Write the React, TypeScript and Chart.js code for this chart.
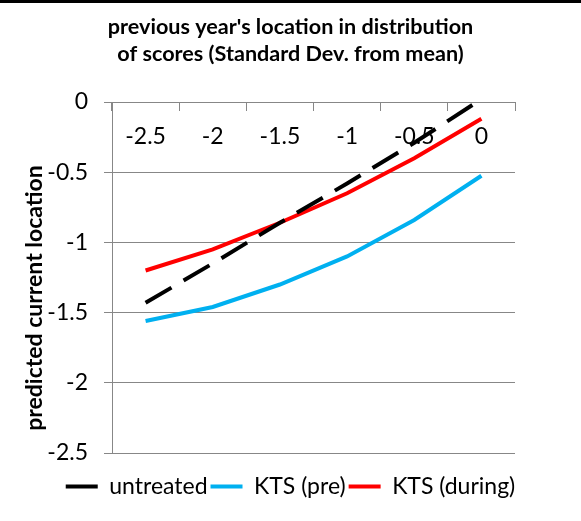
import React, { useEffect, useRef } from "react";
import { Chart, registerables } from "chart.js";

Chart.register(...registerables);

const categories = ["-2.5", "-2", "-1.5", "-1", "-0.5", "0"];
const untreated = [-1.43, -1.15, -0.86, -0.58, -0.29, 0.02];
const ktsPre = [-1.56, -1.46, -1.3, -1.1, -0.84, -0.525];
const ktsDuring = [-1.2, -1.05, -0.86, -0.65, -0.4, -0.12];
const yTickValues = [0, -0.5, -1, -1.5, -2, -2.5];
const yTickLabels = ["0", "-0.5", "-1", "-1.5", "-2", "-2.5"];
const titleLines = ["previous year's location in distribution", "of scores (Standard Dev. from mean)"];
const yTitle = "predicted current location";
const seriesNames = ["untreated", "KTS (pre)", "KTS (during)"];

const FONT = "Lato, 'Open Sans', sans-serif";
const GRID = "#878787";

const yTitlePlugin = {
  id: "yTitle",
  afterDraw(chart: any) {
    const ctx = chart.ctx;
    ctx.save();
    ctx.translate(35, 298);
    ctx.rotate(-Math.PI / 2);
    ctx.font = "bold 23px " + FONT;
    ctx.fillStyle = "#000";
    ctx.textAlign = "center";
    ctx.textBaseline = "middle";
    ctx.fillText(yTitle, 0, 0);
    ctx.restore();
  },
};

export default function App() {
  const ref = useRef<HTMLCanvasElement | null>(null);
  useEffect(() => {
    if (!ref.current) return;
    const chart = new Chart(ref.current, {
      type: "line",
      data: {
        labels: categories,
        datasets: [
          {
            label: seriesNames[0],
            data: untreated,
            xAxisID: "x",
            yAxisID: "y",
            borderColor: "#000000",
            backgroundColor: "#000000",
            borderWidth: 4,
            borderDash: [30, 14],
            pointRadius: 0,
            tension: 0,
          },
          {
            label: seriesNames[1],
            data: ktsPre,
            xAxisID: "x",
            yAxisID: "y",
            borderColor: "#00B0F0",
            backgroundColor: "#00B0F0",
            borderWidth: 4,
            pointRadius: 0,
            tension: 0,
          },
          {
            label: seriesNames[2],
            data: ktsDuring,
            xAxisID: "x",
            yAxisID: "y",
            borderColor: "#FF0000",
            backgroundColor: "#FF0000",
            borderWidth: 4,
            pointRadius: 0,
            tension: 0,
          },
        ],
      },
      options: {
        animation: false,
        responsive: false,
        maintainAspectRatio: false,
        layout: { padding: { top: 0, left: 0, right: 0, bottom: 13 } },
        scales: {
          y: {
            type: "linear",
            position: "left",
            min: -2.5,
            max: 0,
            afterFit: (s: any) => {
              s.width = 112;
            },
            afterBuildTicks: (s: any) => {
              s.ticks = yTickValues.map((v) => ({ value: v }));
            },
            grid: {
              color: GRID,
              tickLength: 8,
              drawTicks: true,
            },
            border: { display: true, color: GRID, width: 1 },
            ticks: {
              color: "#000",
              font: { family: FONT, size: 23 },
              padding: 16,
              callback: (v: any) => {
                const i = yTickValues.indexOf(Number(v));
                return i >= 0 ? yTickLabels[i] : "";
              },
            },
          },
          x: {
            type: "category",
            position: { y: 0 } as any,
            offset: true,
            grid: {
              display: true,
              drawOnChartArea: false,
              drawTicks: true,
              tickLength: 8,
              color: GRID,
              offset: true,
            },
            border: { display: true, color: GRID, width: 1 },
            ticks: {
              color: "#000",
              font: { family: FONT, size: 23 },
              padding: 13,
              maxRotation: 0,
              autoSkip: false,
            },
          },
          xb: {
            type: "category",
            position: "bottom",
            display: true,
            grid: { display: false, drawTicks: false },
            border: { display: false },
            ticks: { display: false },
            afterFit: (s: any) => {
              s.height = 19;
            },
          },
          yr: {
            type: "linear",
            position: "right",
            display: true,
            grid: { display: false, drawTicks: false },
            border: { display: false },
            ticks: { display: false },
            afterFit: (s: any) => {
              s.width = 66;
            },
          },
        },
        plugins: {
          title: {
            display: true,
            text: titleLines,
            color: "#000",
            font: { family: FONT, size: 21.6, weight: "bold", lineHeight: "27px" as any },
            padding: { top: 14, bottom: 34 },
          },
          legend: {
            display: true,
            position: "bottom",
            labels: {
              color: "#000",
              font: { family: FONT, size: 23 },
              boxWidth: 32,
              boxHeight: 4,
              padding: 3,
              generateLabels: (c: any) =>
                c.data.datasets.map((d: any, i: number) => ({
                  text: d.label,
                  fillStyle: d.borderColor,
                  strokeStyle: d.borderColor,
                  lineWidth: 0,
                  lineDash: [],
                  hidden: false,
                  datasetIndex: i,
                  fontColor: "#000",
                })),
            },
          },
          tooltip: { enabled: false },
        },
      },
      plugins: [yTitlePlugin],
    });
    return () => chart.destroy();
  }, []);
  return (
    <div style={{ position: "fixed", left: 0, top: 0, width: 581, height: 521, background: "#fff" }}>
      <canvas ref={ref} width={581} height={521} style={{ width: 581, height: 521, display: "block" }} />
      <div style={{ position: "absolute", left: 0, top: 0, width: 581, height: 3, background: "#000" }} />
    </div>
  );
}
